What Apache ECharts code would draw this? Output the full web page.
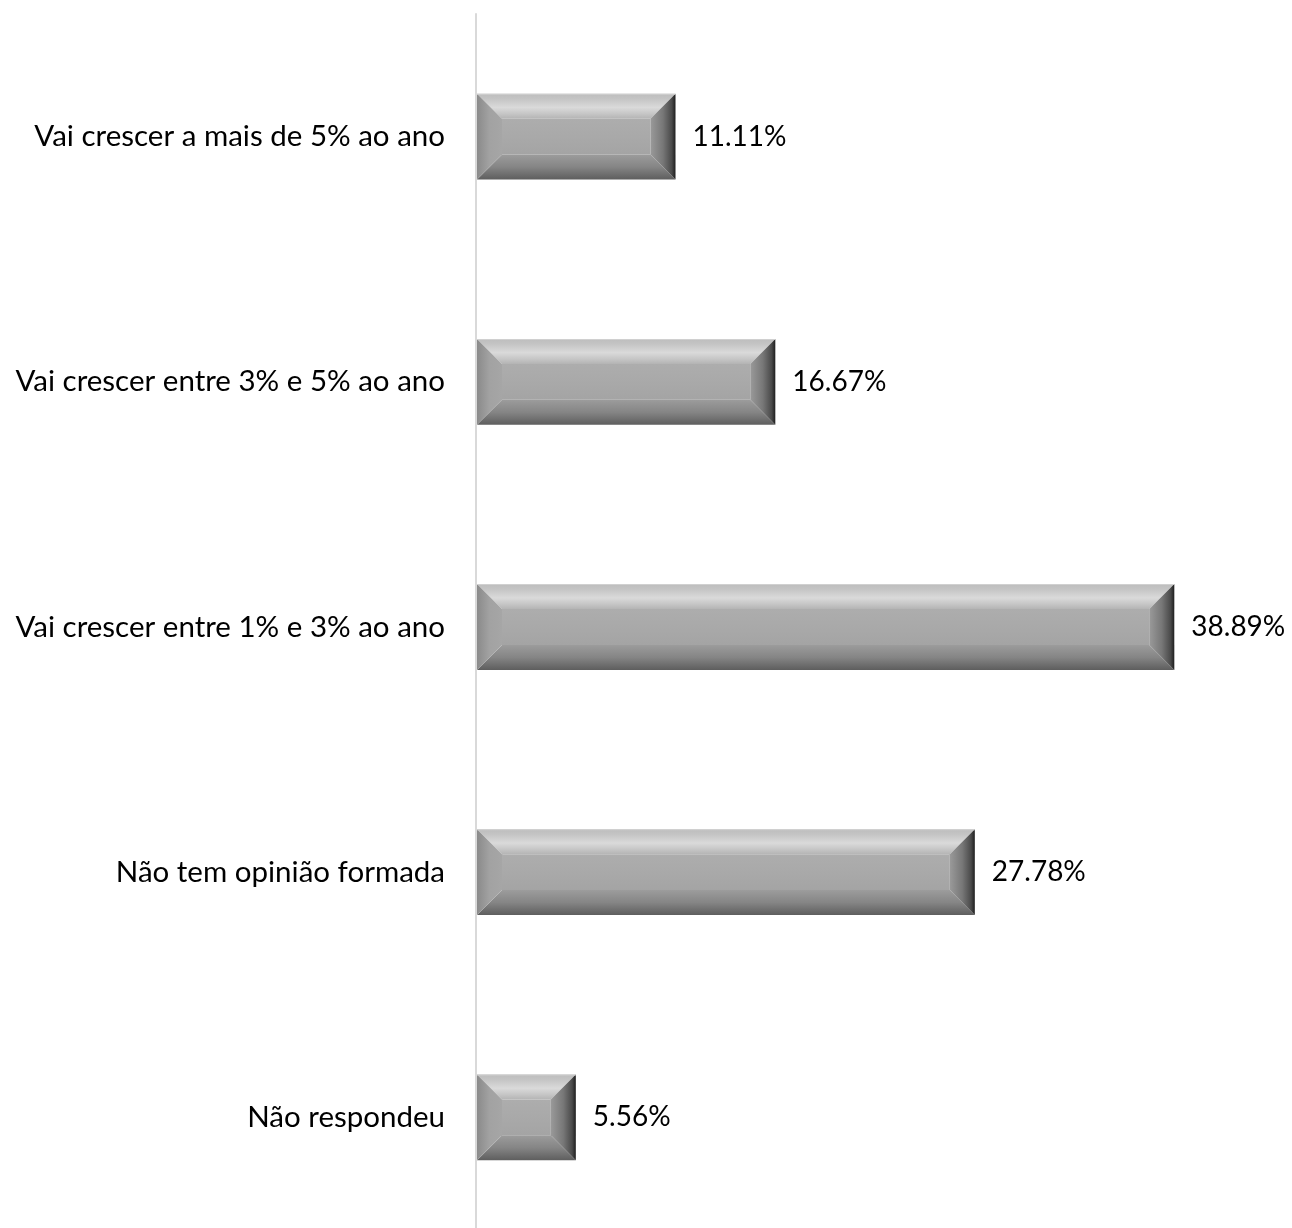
<!DOCTYPE html>
<html>
<head>
<meta charset="utf-8">
<script src="https://cdn.jsdelivr.net/npm/echarts@6/dist/echarts.min.js"></script>
<style>html,body{margin:0;padding:0;background:#fff}#c{width:1292px;height:1228px}</style>
</head>
<body>
<div id="c"></div>
<script>
const categories = [
  'Vai crescer a mais de 5% ao ano',
  'Vai crescer entre 3% e 5% ao ano',
  'Vai crescer entre 1% e 3% ao ano',
  'Não tem opinião formada',
  'Não respondeu'
];
const values = [11.11, 16.67, 38.89, 27.78, 5.56];

const FONT = 'Lato, "Liberation Sans", sans-serif';

function lin(x2, y2, stops) {
  return { type: 'linear', x: 0, y: 0, x2: x2, y2: y2,
    colorStops: stops.map(s => ({ offset: s[0], color: s[1] })) };
}

function renderItem(params, api) {
  const cat = api.value(0);
  const val = api.value(1);
  const p0 = api.coord([0, cat]);
  const p1 = api.coord([val, cat]);
  const bandH = api.size([0, 1])[1];
  const h = bandH * 0.35;
  const x0 = p0[0] + 1, x1 = p1[0];
  const y0 = p0[1] - h / 2, y1 = p0[1] + h / 2;
  const b = Math.min(25, (x1 - x0) / 2 - 4, h / 2 - 4);
  const ix0 = x0 + b, ix1 = x1 - b, iy0 = y0 + b, iy1 = y1 - b;
  return {
    type: 'group',
    children: [
      { type: 'rect', shape: { x: ix0, y: iy0, width: ix1 - ix0, height: iy1 - iy0 },
        style: { fill: lin(0, 1, [[0, '#adadad'], [0.5, '#a9a9a9'], [1, '#a4a4a4']]) } },
      { type: 'polygon', shape: { points: [[x0, y0], [x1, y0], [ix1, iy0], [ix0, iy0]] },
        style: { fill: lin(0, 1, [[0, '#bdbdbd'], [0.2, '#c4c4c4'], [0.55, '#dadada'], [0.8, '#c6c6c6'], [1, '#b4b4b4']]) } },
      { type: 'polygon', shape: { points: [[x0, y1], [x1, y1], [ix1, iy1], [ix0, iy1]] },
        style: { fill: lin(0, 1, [[0, '#9c9c9c'], [0.5, '#858585'], [1, '#5e5e5e']]) } },
      { type: 'polygon', shape: { points: [[x0, y0], [ix0, iy0], [ix0, iy1], [x0, y1]] },
        style: { fill: lin(1, 0, [[0, '#8a8a8a'], [0.5, '#a2a2a2'], [1, '#a6a6a6']]) } },
      { type: 'polygon', shape: { points: [[x1, y0], [ix1, iy0], [ix1, iy1], [x1, y1]] },
        style: { fill: lin(1, 0, [[0, '#9a9a9a'], [0.5, '#777777'], [0.85, '#4a4a4a'], [1, '#1e1e1e']]) } },
      { type: 'rect', shape: { x: x0, y: y0, width: x1 - x0, height: 1 },
        style: { fill: '#d0d0d0' } },
      { type: 'text', x: x1 + 17, y: p0[1],
        style: { text: val.toFixed(2) + '%', fill: '#000', font: '28px ' + FONT,
          textVerticalAlign: 'middle', verticalAlign: 'middle', textAlign: 'left', align: 'left' } }
    ]
  };
}

const chart = echarts.init(document.getElementById('c'));
chart.setOption({
  backgroundColor: '#fff',
  animation: false,
  grid: { left: 476, width: 808, top: 14, height: 1226, containLabel: false, outerBoundsMode: 'none' },
  xAxis: { type: 'value', min: 0, max: 45, show: false },
  yAxis: {
    type: 'category', data: categories, inverse: true,
    axisLine: { show: true, lineStyle: { color: '#d9d9d9', width: 2 } },
    axisTick: { show: false },
    axisLabel: { color: '#000', fontSize: 29.5, fontFamily: FONT, margin: 31 }
  },
  series: [{
    type: 'custom',
    renderItem: renderItem,
    data: values.map((v, i) => [i, v]),
    encode: { y: 0, x: 1 },
    clip: false
  }]
});
</script>
</body>
</html>
